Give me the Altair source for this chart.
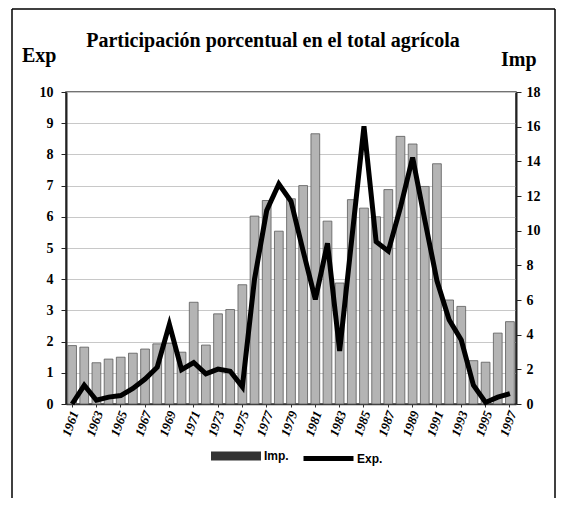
import altair as alt
import pandas as pd

years = ["1961", "1962", "1963", "1964", "1965", "1966", "1967", "1968", "1969", "1970",
         "1971", "1972", "1973", "1974", "1975", "1976", "1977", "1978", "1979", "1980",
         "1981", "1982", "1983", "1984", "1985", "1986", "1987", "1988", "1989", "1990",
         "1991", "1992", "1993", "1994", "1995", "1996", "1997"]

# Imp. (right axis, 0-18)
imp = [3.37, 3.28, 2.38, 2.59, 2.70, 2.93, 3.17, 3.47, 3.50, 2.99,
       5.87, 3.40, 5.20, 5.45, 6.88, 10.84, 11.74, 9.97, 11.84, 12.60,
       15.59, 10.55, 6.98, 11.79, 11.30, 10.80, 12.37, 15.44, 15.00, 12.55,
       13.86, 6.00, 5.63, 2.50, 2.41, 4.09, 4.75]

# Exp. (left axis, 0-10)
exp_ = [0.00, 0.60, 0.12, 0.22, 0.27, 0.50, 0.80, 1.18, 2.55, 1.10,
        1.33, 0.97, 1.12, 1.05, 0.55, 4.00, 6.20, 7.05, 6.50, 4.90,
        3.35, 5.15, 1.70, 5.30, 8.90, 5.20, 4.90, 6.30, 7.90, 5.90,
        3.95, 2.70, 2.05, 0.60, 0.05, 0.22, 0.33]

label_years = years[::2]
title_text = "Participación porcentual en el total agrícola"

df = pd.DataFrame({"year": years, "imp": imp, "exp": exp_})

W, H = 450, 312
serif = "Liberation Serif"
sans = "Liberation Sans"

xenc = alt.X("year:O", sort=years,
             scale=alt.Scale(paddingInner=0.28, paddingOuter=0.14),
             axis=alt.Axis(title=None, values=label_years, labelAngle=-70,
                           labelFont=serif, labelFontWeight="bold", labelFontStyle="italic",
                           labelFontSize=13, labelColor="black", labelOffset=3,
                           labelPadding=4, tickSize=3, tickColor="#333",
                           domainColor="#333", domainWidth=1.5, grid=False))

bars = alt.Chart(df).mark_bar(fill="#b4b4b4", stroke="#5a5a5a", strokeWidth=0.8).encode(
    x=xenc,
    y=alt.Y("imp:Q", scale=alt.Scale(domain=[0, 18]),
            axis=alt.Axis(orient="right", title=None, values=list(range(0, 19, 2)),
                          labelFont=serif, labelFontWeight="bold", labelFontSize=14,
                          labelColor="black", tickSize=5, tickColor="#222",
                          labelPadding=5, domainColor="#222", domainWidth=2, grid=False))
)

line = alt.Chart(df).transform_calculate(s="'Exp.'").mark_line(strokeWidth=5).encode(
    x=alt.X("year:O", sort=years),
    y=alt.Y("exp:Q", scale=alt.Scale(domain=[0, 10]),
            axis=alt.Axis(orient="left", title=None, values=list(range(0, 11)),
                          labelFont=serif, labelFontWeight="bold", labelFontSize=14,
                          labelColor="black", tickSize=5, tickColor="#222",
                          labelPadding=8, domainColor="#222", domainWidth=2,
                          grid=True, gridColor="#c8c8c8", gridWidth=1)),
    stroke=alt.Stroke("s:N", scale=alt.Scale(domain=["Exp."], range=["black"]),
                      legend=alt.Legend(title=None, orient="none", legendX=235, legendY=339,
                                        symbolType="stroke", symbolSize=2500,
                                        symbolStrokeWidth=5, labelFont=sans,
                                        labelFontWeight="bold", labelFontSize=12,
                                        labelColor="black", labelOffset=1, padding=0))
)

imp_legend = alt.Chart(df).transform_calculate(s="'Imp.'").transform_filter("false").mark_bar().encode(
    x=alt.X("year:O", sort=years),
    y=alt.Y("imp:Q", scale=alt.Scale(domain=[0, 18]), axis=None),
    fill=alt.Fill("s:N", scale=alt.Scale(domain=["Imp."], range=["#333333"]),
                  legend=alt.Legend(title=None, orient="none", legendX=145, legendY=339,
                                    symbolType="M-1,-0.18H1V0.18H-1Z", symbolSize=2500,
                                    symbolStrokeWidth=0, labelFont=sans,
                                    labelFontWeight="bold", labelFontSize=12,
                                    labelColor="black", labelOffset=3, padding=0))
)

tdf = pd.DataFrame({"t": [title_text]})
title = alt.Chart(tdf).mark_text(font=serif, fontWeight="bold", fontSize=20,
                                 align="center", baseline="alphabetic", color="black").encode(
    text="t:N", x=alt.value(207), y=alt.value(-45))

edf = pd.DataFrame({"t": ["Exp"]})
exp_lbl = alt.Chart(edf).mark_text(font=serif, fontWeight="bold", fontSize=20,
                                   align="left", baseline="alphabetic", color="black").encode(
    text="t:N", x=alt.value(-44), y=alt.value(-30))

idf = pd.DataFrame({"t": ["Imp"]})
imp_lbl = alt.Chart(idf).mark_text(font=serif, fontWeight="bold", fontSize=20,
                                   align="left", baseline="alphabetic", color="black").encode(
    text="t:N", x=alt.value(435), y=alt.value(-26))

frame_top = alt.Chart(tdf).mark_rule(color="black", strokeWidth=1.5).encode(
    x=alt.value(-54), x2=alt.value(489), y=alt.value(-83))
frame_left = alt.Chart(tdf).mark_rule(color="black", strokeWidth=1.5).encode(
    x=alt.value(-54), y=alt.value(-83), y2=alt.value(406))
frame_right = alt.Chart(tdf).mark_rule(color="black", strokeWidth=1.5).encode(
    x=alt.value(489), y=alt.value(-83), y2=alt.value(406))

chart = alt.layer(bars, line, imp_legend, title, exp_lbl, imp_lbl,
                  frame_top, frame_left, frame_right).resolve_scale(
    y="independent", fill="independent", stroke="independent"
).properties(
    width=W, height=H,
    autosize=alt.AutoSizeParams(type="none"),
    padding={"left": 58, "top": 84, "right": 40, "bottom": 94}
).configure_view(stroke="#444", strokeWidth=1.5)

chart.save("out.html", embed_options={"renderer": "svg", "actions": False})
